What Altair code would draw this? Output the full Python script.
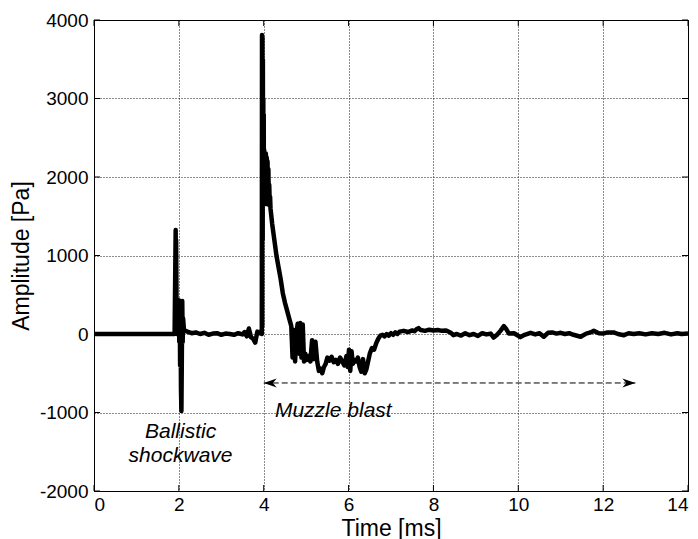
import altair as alt
import pandas as pd

# ---- waveform (time in ms, amplitude in Pa) ----
base_t = [0.0, 1.89]
base_a = [0, 0]

shock_t = [1.90, 1.925, 1.93, 1.935, 1.95, 1.97, 1.99, 2.00, 2.01, 2.02, 2.03, 2.04, 2.05, 2.06, 2.07, 2.08, 2.09, 2.10, 2.12]
shock_a = [0, 1325, 200, 1200, 0, 200, 0, 430, -100, 350, -400, 300, -700, -980, -300, 420, -100, 200, 50]

quiet_t = [2.2, 2.3, 2.4, 2.5, 2.6, 2.7, 2.8, 2.9, 3.0, 3.1, 3.2, 3.3, 3.4, 3.5, 3.55, 3.6, 3.65, 3.7, 3.75, 3.8, 3.85, 3.9, 3.94]
quiet_a = [30, 10, 20, 0, 15, -10, 5, 10, -10, 5, 0, -10, 10, -5, 25, -30, 70, -40, -60, -110, 30, 10, 40]

blast_t = [3.955, 3.96, 3.965, 3.97, 3.975, 3.98, 3.985, 3.99, 3.995, 4.00, 4.005, 4.01, 4.015, 4.02, 4.025,
           4.03, 4.04, 4.05, 4.06, 4.07, 4.08, 4.09, 4.10, 4.11, 4.12, 4.13, 4.14, 4.15, 4.16]
blast_a = [0, 3810, 100, 3780, 1200, 3500, 1700, 3000, 1900, 2800, 1650, 2350, 1700, 2300, 1750,
           2250, 1700, 2300, 1750, 2250, 1800, 2200, 1650, 2100, 1700, 1900, 1700, 1750, 1600]

decay_t = [4.20, 4.25, 4.30, 4.35, 4.40, 4.45, 4.50, 4.55, 4.60]
decay_a = [1400, 1200, 1000, 850, 700, 520, 400, 300, 200]

noisy_t = [4.65, 4.68, 4.71, 4.74, 4.77, 4.80, 4.83, 4.86, 4.89, 4.92, 4.95, 4.98, 5.02, 5.06, 5.10, 5.14, 5.18, 5.22, 5.26]
noisy_a = [100, -300, 50, -350, 0, 130, -250, 140, -300, 120, -350, -250, -330, -280, -350, -80, -320, -100, -350]

trough_t = [5.30, 5.34, 5.38, 5.42, 5.46, 5.50, 5.55, 5.60, 5.65, 5.70, 5.75, 5.80, 5.85, 5.90, 5.95, 5.98,
            6.01, 6.04, 6.07, 6.10, 6.14, 6.18, 6.22, 6.26, 6.30, 6.34, 6.38, 6.42, 6.46, 6.50, 6.55, 6.60,
            6.65, 6.70, 6.75]
trough_a = [-470, -440, -500, -420, -380, -300, -340, -290, -360, -330, -380, -300, -350, -400, -280, -420,
            -200, -470, -220, -380, -330, -350, -300, -420, -480, -320, -500, -450, -350, -250, -180, -200,
            -120, -60, -20]

tail_t = [6.80, 6.85, 6.90, 6.95, 7.00, 7.05, 7.10, 7.15, 7.20, 7.30, 7.40, 7.50, 7.55, 7.60, 7.65,
          7.70, 7.80, 7.90, 8.00, 8.10, 8.20, 8.30, 8.40, 8.47, 8.55, 8.65, 8.75, 8.85, 8.95, 9.05,
          9.15, 9.25, 9.35, 9.42, 9.50, 9.58, 9.66, 9.72, 9.78, 9.90, 10.05, 10.15, 10.29, 10.40, 10.50,
          10.60, 10.70, 10.80, 10.90, 11.00, 11.10, 11.20, 11.30, 11.47, 11.60, 11.70, 11.78, 11.90, 12.00, 12.10,
          12.25, 12.35, 12.49, 12.60, 12.72, 12.85, 13.00, 13.15, 13.30, 13.45, 13.60, 13.75, 13.85, 14.00]
tail_a = [-10, -30, 0, -20, 10, -10, 20, 0, 30, 40, 25, 45, 35, 60, 75,
          50, 40, 55, 45, 50, 40, 45, 20, -15, 0, -20, 10, -15, 0, -25,
          10, -5, 5, -45, -10, 40, 100, 60, 5, 10, -40, -10, 15, -5, 10,
          -35, 15, 20, 5, 15, 0, 10, -10, -35, 5, 20, 40, 10, 5, 20,
          20, 0, -15, 10, 0, 10, -5, 10, 0, 15, -5, 10, 0, 5]

# ---- annotations ----
ann_text = ["Ballistic", "shockwave", "Muzzle blast"]
ann_t = [2.04, 2.04, 5.64]
ann_a = [-1325, -1630, -1057]

arrow_t = [4.0, 12.76]
arrow_a = [-624, -624]

x_ticks = [0, 2, 4, 6, 8, 10, 12, 14]
y_ticks = [-2000, -1000, 0, 1000, 2000, 3000, 4000]

# ---- build tables ----
rows = []
for ts, as_ in [(base_t, base_a), (shock_t, shock_a), (quiet_t, quiet_a), (blast_t, blast_a),
                (decay_t, decay_a), (noisy_t, noisy_a), (trough_t, trough_a), (tail_t, tail_a)]:
    for t, a in zip(ts, as_, strict=True):
        rows.append({"t": t, "a": a})
wave = pd.DataFrame(rows)
ann = pd.DataFrame({"t": ann_t, "a": ann_a, "label": ann_text})
arrow = pd.DataFrame({"t": arrow_t[:1], "t2": arrow_t[1:], "a": arrow_a[:1]})
left_head = pd.DataFrame({"t": arrow_t[:1], "a": arrow_a[:1]})
right_head = pd.DataFrame({"t": arrow_t[1:], "a": arrow_a[1:]})
xt = pd.DataFrame({"t": x_ticks})
yt = pd.DataFrame({"a": y_ticks})

W, H, TICK = 594, 471, 6
FONT = "Liberation Sans"
xscale = alt.Scale(domain=[0, 14], nice=False, zero=False)
yscale = alt.Scale(domain=[-2000, 4000], nice=False, zero=False)

x_enc = alt.X("t:Q", scale=xscale, axis=alt.Axis(
    values=x_ticks, labelExpr="'' + datum.value", title="Time [ms]", titleX=W / 2, titleY=44,
    titleAlign="center", titleBaseline="alphabetic", labelPadding=4))
y_enc = alt.Y("a:Q", scale=yscale, axis=alt.Axis(
    values=y_ticks, labelExpr="'' + datum.value", title="Amplitude [Pa]", titleX=-66,
    titleY=H / 2, titleAngle=270, titleAlign="center", titleBaseline="alphabetic", labelPadding=6))

line = alt.Chart(wave).mark_line(color="black", strokeWidth=4.5, strokeJoin="round").encode(
    x=x_enc, y=y_enc)

# inward tick marks on all four sides (MATLAB box style)
tick_b = alt.Chart(xt).mark_rule(color="black", strokeWidth=1).encode(
    x=alt.X("t:Q", scale=xscale), y=alt.value(H), y2=alt.value(H - TICK))
tick_t = alt.Chart(xt).mark_rule(color="black", strokeWidth=1).encode(
    x=alt.X("t:Q", scale=xscale), y=alt.value(0), y2=alt.value(TICK))
tick_l = alt.Chart(yt).mark_rule(color="black", strokeWidth=1).encode(
    y=alt.Y("a:Q", scale=yscale), x=alt.value(0), x2=alt.value(TICK))
tick_r = alt.Chart(yt).mark_rule(color="black", strokeWidth=1).encode(
    y=alt.Y("a:Q", scale=yscale), x=alt.value(W), x2=alt.value(W - TICK))

rule = alt.Chart(arrow).mark_rule(color="black", strokeWidth=1, strokeDash=[6, 3]).encode(
    x="t:Q", x2="t2:Q", y="a:Q")

lhead = alt.Chart(left_head).mark_point(
    shape="M-1,0 L1,-0.7 L0.4,0 L1,0.7 Z", filled=True, color="black", size=169, opacity=1,
    xOffset=6.5).encode(x="t:Q", y="a:Q")
rhead = alt.Chart(right_head).mark_point(
    shape="M1,0 L-1,-0.7 L-0.4,0 L-1,0.7 Z", filled=True, color="black", size=169, opacity=1,
    xOffset=-6.5).encode(x="t:Q", y="a:Q")

text = alt.Chart(ann).mark_text(font=FONT, fontSize=21, fontStyle="italic", color="black",
                                align="center", baseline="alphabetic").encode(
    x="t:Q", y="a:Q", text="label:N")

chart = alt.layer(line, tick_b, tick_t, tick_l, tick_r, rule, lhead, rhead, text).properties(
    width=W, height=H,
    background="white",
    autosize=alt.AutoSizeParams(type="none"),
    padding={"left": 94, "top": 20, "right": 10, "bottom": 48},
).configure_view(stroke="black", strokeWidth=1).configure_axis(
    labelFont=FONT, labelFontSize=19, labelColor="black",
    titleFont=FONT, titleFontSize=23, titleFontWeight="normal", titleColor="black",
    domainColor="black", domainWidth=1,
    grid=True, gridColor="black", gridDash=[1, 2], gridWidth=1, gridOpacity=0.9,
    ticks=False,
)

chart.save("out.html", embed_options={"renderer": "svg", "actions": False})
